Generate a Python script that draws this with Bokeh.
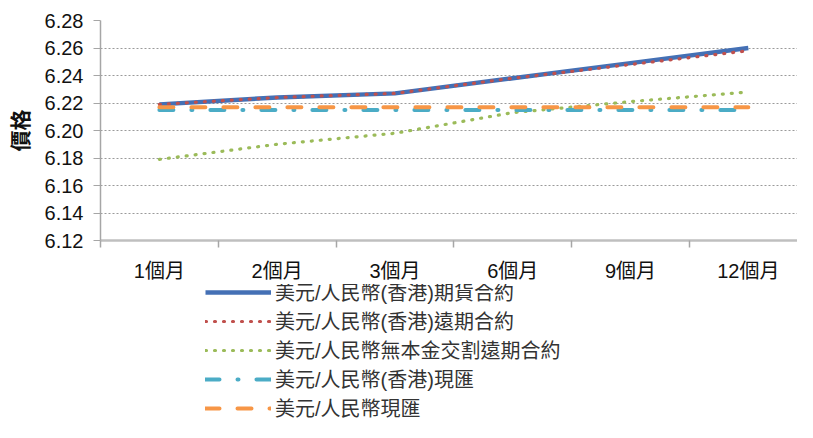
from bokeh.plotting import figure
from bokeh.layouts import column
from bokeh.models import Range1d, FixedTicker, Legend, LegendItem
from bokeh.embed import file_html
from bokeh.resources import INLINE

categories = ["1個月", "2個月", "3個月", "6個月", "9個月", "12個月"]
futures_hk = [6.219, 6.224, 6.227, 6.238, 6.249, 6.260]
forward_hk = [6.219, 6.224, 6.227, 6.238, 6.248, 6.258]
ndf = [6.179, 6.190, 6.198, 6.213, 6.221, 6.228]
spot_hk = [6.215, 6.215, 6.215, 6.215, 6.215, 6.215]
spot = [6.217, 6.217, 6.217, 6.217, 6.217, 6.217]
y_ticks = [6.12, 6.14, 6.16, 6.18, 6.20, 6.22, 6.24, 6.26, 6.28]

series_names = [
    "美元/人民幣(香港)期貨合約",
    "美元/人民幣(香港)遠期合約",
    "美元/人民幣無本金交割遠期合約",
    "美元/人民幣(香港)現匯",
    "美元/人民幣現匯",
]

x = [i + 0.5 for i in range(len(categories))]
series = [futures_hk, forward_hk, ndf, spot_hk, spot]
styles = [
    dict(line_color="#4470B5", line_width=4.5),
    dict(line_color="#C0504D", line_width=3.2, line_dash="1 8", line_cap="round"),
    dict(line_color="#9BBB59", line_width=3.2, line_dash="1 8", line_cap="round"),
    dict(line_color="#4BACC6", line_width=4, line_dash="14 18 1 18", line_cap="round"),
    dict(line_color="#F79646", line_width=4, line_dash="14 18", line_cap="round"),
]

LAT = "'Liberation Sans', 'Noto Sans CJK TC'"
CJK = "'Noto Sans CJK TC'"

p = figure(width=797, height=284, output_backend="svg", toolbar_location=None,
           x_range=Range1d(0, 703 / 118.8), y_range=Range1d(6.12, 6.28),
           min_border_left=94, min_border_right=0, min_border_top=20,
           min_border_bottom=39)
p.outline_line_color = None

# y axis
p.yaxis.ticker = FixedTicker(ticks=y_ticks)
p.yaxis.major_label_overrides = {t: f"{t:.2f}" for t in y_ticks}
p.yaxis.axis_line_color = "#A6A6A6"
p.yaxis.axis_line_width = 1.5
p.yaxis.major_tick_out = 7
p.yaxis.major_tick_in = 0
p.yaxis.major_tick_line_color = "#A6A6A6"
p.yaxis.minor_tick_line_color = None
p.yaxis.major_label_text_font = LAT
p.yaxis.major_label_text_font_size = "20px"
p.yaxis.major_label_text_color = "#111111"
p.yaxis.major_label_standoff = 10
p.yaxis.axis_label = "價格"
p.yaxis.axis_label_text_font = CJK
p.yaxis.axis_label_text_font_size = "21px"
p.yaxis.axis_label_text_font_style = "bold"
p.yaxis.axis_label_text_color = "#111111"
p.yaxis.axis_label_standoff = 8

# x axis
p.xaxis.ticker = FixedTicker(ticks=x, minor_ticks=list(range(len(categories) + 1)))
p.xaxis.major_label_overrides = {xi: c for xi, c in zip(x, categories)}
p.xaxis.axis_line_color = "#BFBFBF"
p.xaxis.axis_line_width = 2.5
p.xaxis.major_tick_out = 0
p.xaxis.major_tick_in = 0
p.xaxis.minor_tick_out = 7
p.xaxis.minor_tick_in = 0
p.xaxis.minor_tick_line_color = "#A6A6A6"
p.xaxis.minor_tick_line_width = 1.5
p.xaxis.major_label_text_font = LAT
p.xaxis.major_label_text_font_size = "20px"
p.xaxis.major_label_text_color = "#111111"
p.xaxis.major_label_standoff = 12

p.xgrid.grid_line_color = None
p.ygrid.ticker = FixedTicker(ticks=y_ticks)
p.ygrid.grid_line_color = "#9A9A9A"
p.ygrid.grid_line_dash = "2 2"
p.ygrid.grid_line_width = 1

for ys, st in zip(series, styles):
    p.line(x, ys, **st)

# legend panel below the chart (same series, drawn off-view; only the legend shows)
lg = figure(width=797, height=138, output_backend="svg", toolbar_location=None,
            x_range=Range1d(0, 1), y_range=Range1d(0, 1),
            x_axis_location=None, y_axis_location=None,
            min_border=0, min_border_left=0, min_border_right=0,
            min_border_top=0, min_border_bottom=0)
lg.outline_line_color = None
lg.xgrid.visible = False
lg.ygrid.visible = False
renderers = [lg.line(x, ys, **st) for ys, st in zip(series, styles)]

legend = Legend(items=[LegendItem(label=n, renderers=[r]) for n, r in
                       zip(series_names, renderers)],
                location=(105, 0), orientation="vertical")
legend.padding = 0
legend.margin = 0
legend.spacing = 0
legend.glyph_width = 66
legend.glyph_height = 20
legend.label_height = 20
legend.label_standoff = 4
legend.label_text_font = LAT
legend.label_text_font_size = "20px"
legend.label_text_line_height = 0.92
legend.label_text_color = "#333333"
legend.border_line_color = None
legend.background_fill_alpha = 0
lg.add_layout(legend, "center")

layout = column(p, lg, spacing=0)
open("out.html", "w").write(file_html(layout, INLINE))
